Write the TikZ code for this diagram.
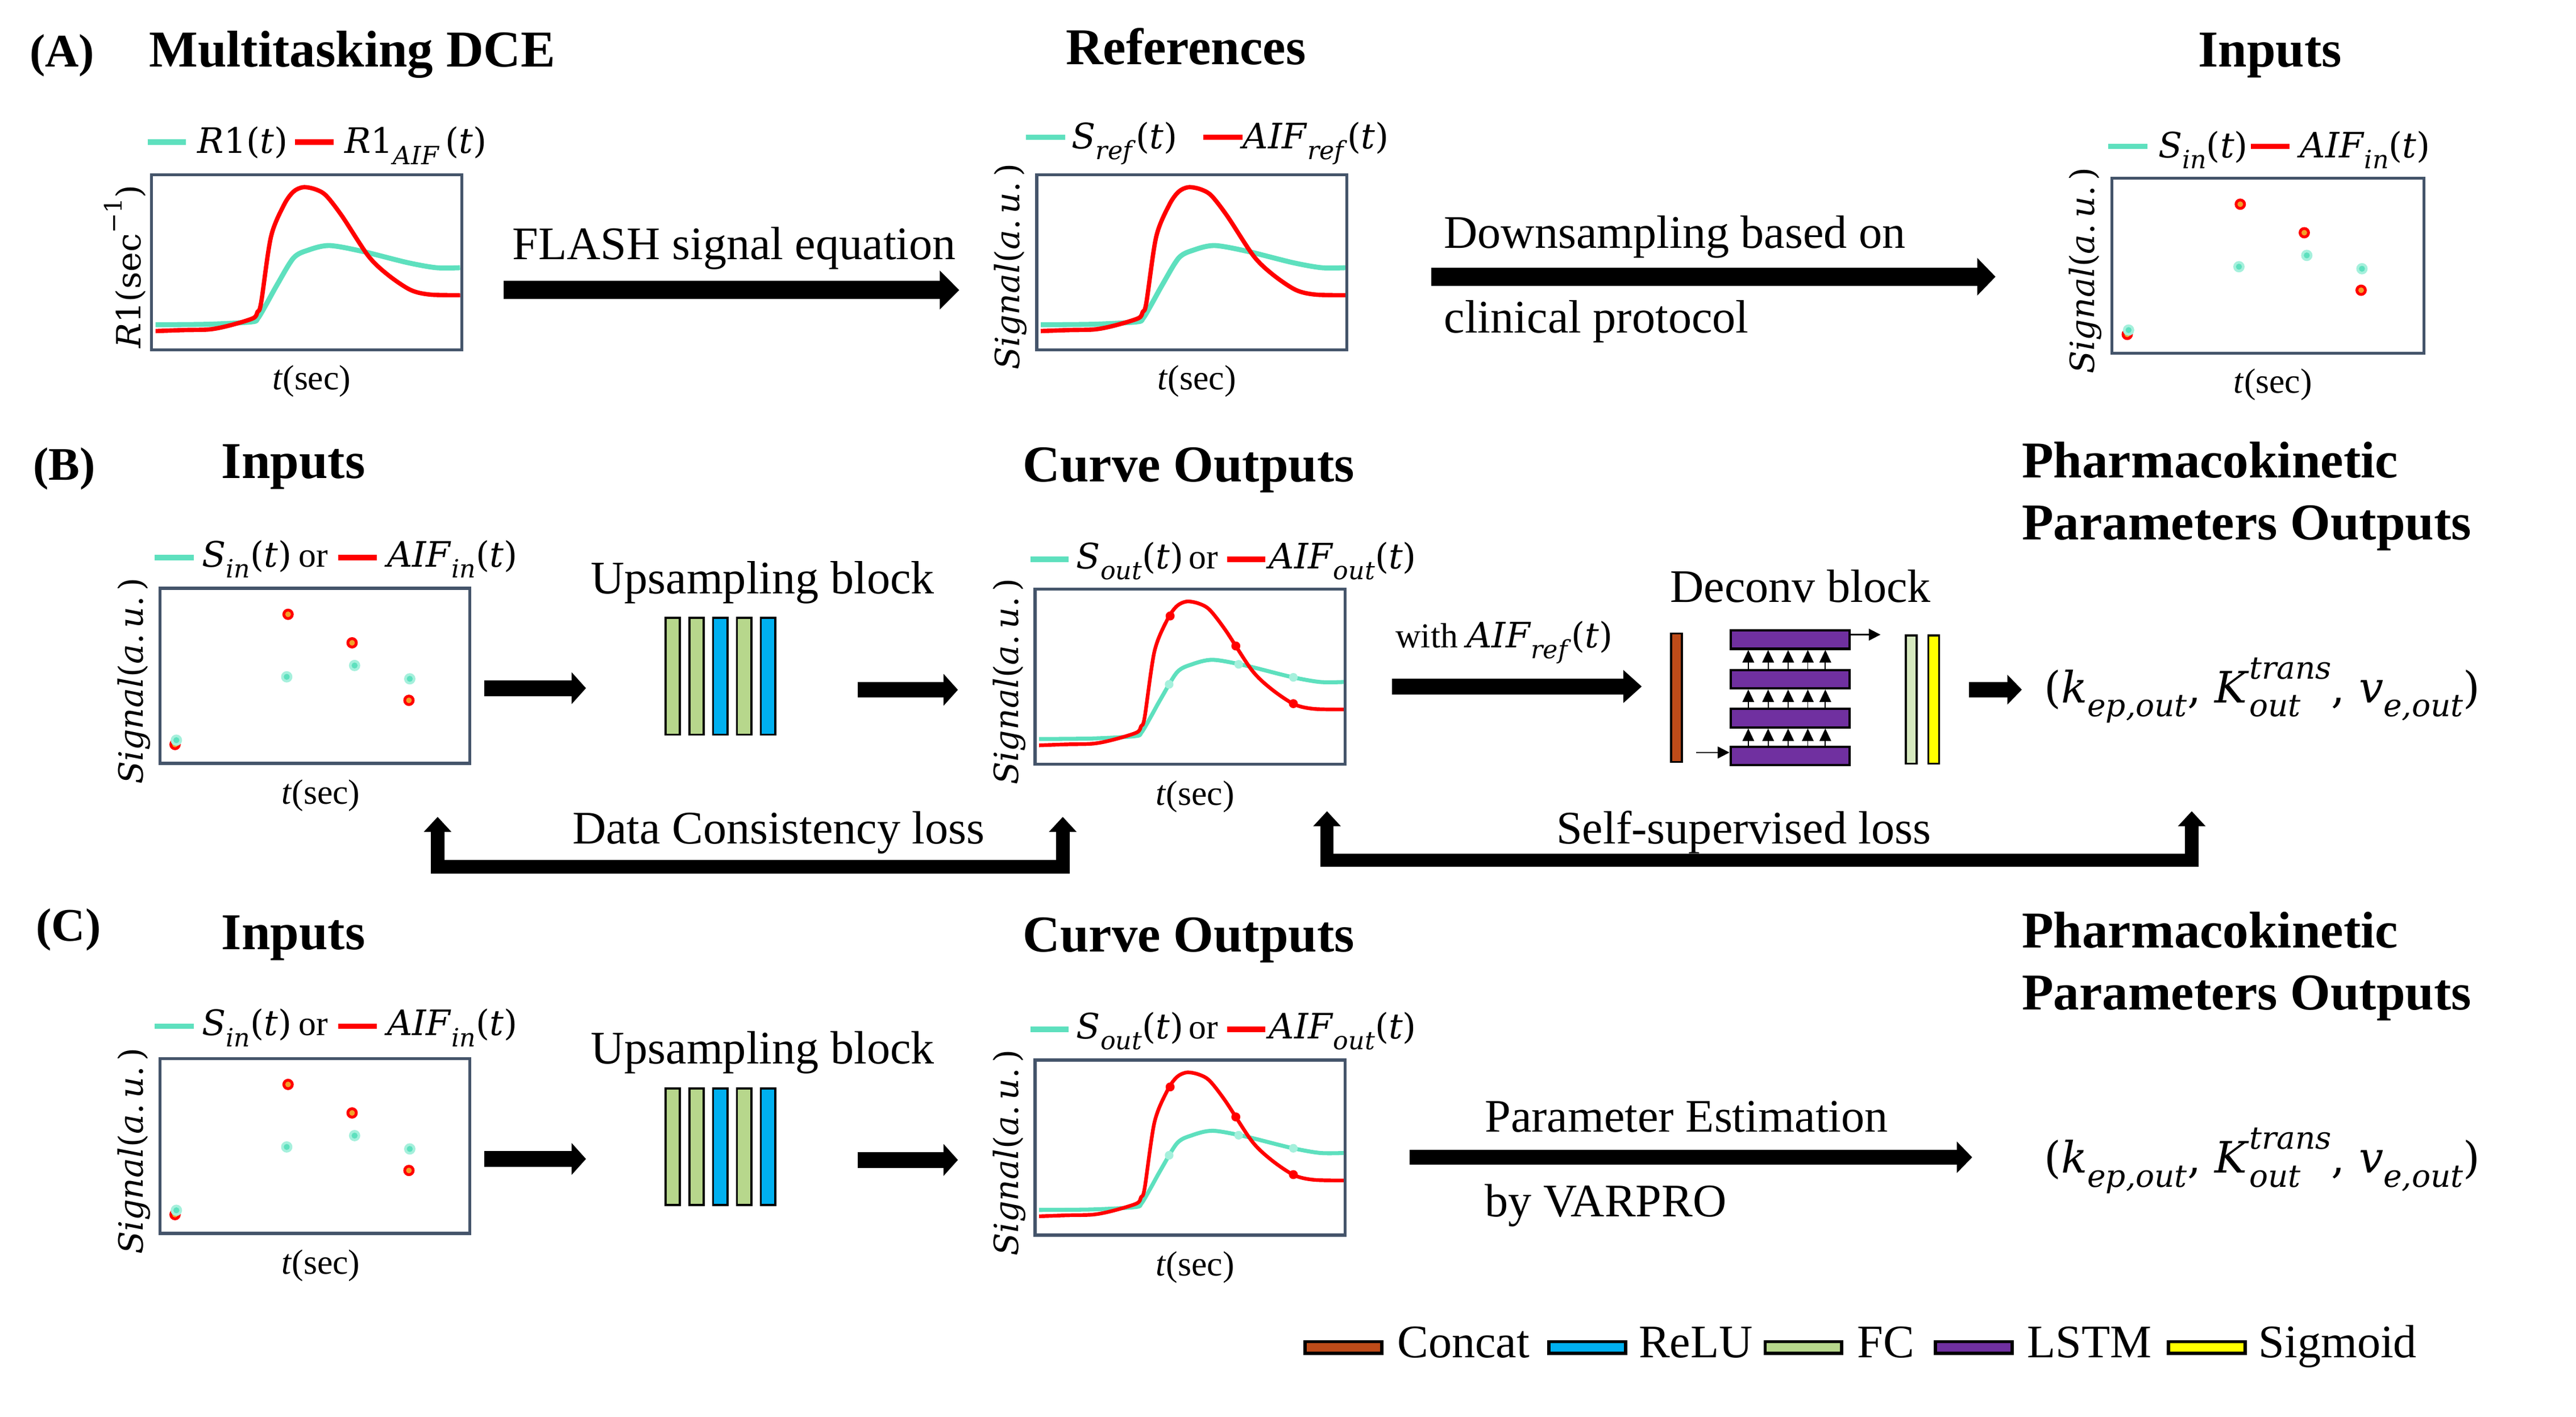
\documentclass[tikz,border=0pt]{standalone}
\usepackage{fontspec}
\usepackage{graphicx}
\setmainfont{Liberation Serif}
\newfontfamily\mifont{DejaVu Serif}
\usetikzlibrary{arrows.meta}
\definecolor{tealc}{RGB}{94,224,190}
\definecolor{tealL}{RGB}{165,240,220}
\definecolor{slate}{RGB}{68,84,106}
\definecolor{redc}{RGB}{255,0,0}
\definecolor{orangec}{RGB}{240,160,40}
\definecolor{concatc}{RGB}{190,75,25}
\definecolor{reluc}{RGB}{0,176,240}
\definecolor{fcc}{RGB}{183,215,140}
\definecolor{fcl}{RGB}{214,233,190}
\definecolor{lstmc}{RGB}{112,48,160}
\definecolor{sigc}{RGB}{255,255,0}
\newcommand\mysub[1]{\raisebox{-0.32em}{\scalebox{0.72}{#1}}}
\newcommand\mysup[1]{\raisebox{0.55em}{\scalebox{0.72}{#1}}}
\newcommand\mysubsup[2]{\rlap{\mysub{#1}}\mysup{#2}}
\newcommand\refcurves[2]{%
 \draw[tealc, line width=#1, line join=round] plot[smooth, tension=0.5] coordinates {(3.3,90.8) (35,90.5) (60.8,89.1) (64.7,86.9) (70,78) (76.4,66.5) (86.1,50.7) (95,46) (107.5,43.3) (127,46.7) (154.3,53.5) (171.8,56.6) (186,56.6)};
 \draw[redc, line width=#2, line join=round] plot[smooth, tension=0.5] coordinates {(3.3,94.6) (20,94) (35.5,93.6) (47.1,91.4) (61.8,86.9) (64.5,83) (66.6,77.8) (72.5,38.2) (80.3,19) (86,11) (91.9,8.3) (99,9.5) (105.6,13.3) (115.3,25.8) (130.9,49.5) (142.6,60.8) (156.2,69.9) (167.9,72.7) (186,73.1)};}
\newcommand\inputdots{%
 \foreach \x/\y in {10/94.6, 77.8/16.5, 116.2/33.6, 150.3/68.1} {\fill[redc] (\x,\y) circle (3.4pt); \fill[orangec] (\x,\y) circle (1.7pt);}
 \foreach \x/\y in {10.8/92, 77/54, 117.7/47.2, 150.8/55.2} {\fill[tealL] (\x,\y) circle (3.4pt); \fill[tealc] (\x,\y) circle (1.8pt);}}
\newcommand\outdots{%
 \foreach \x/\y in {81.9/17, 121.3/35, 155.8/69.6} {\fill[redc] (\x,\y) circle (2.7pt);}
 \foreach \x/\y in {81.3/58, 123/46, 155.8/53.8} {\fill[tealL] (\x,\y) circle (2.6pt);}}
\tikzset{
 ttl/.style={font=\fontsize{31}{34}\selectfont\bfseries, inner sep=0pt},
 plab/.style={font=\fontsize{28}{30}\selectfont\bfseries, inner sep=0pt, anchor=base west},
 txt/.style={font=\fontsize{28}{30}\selectfont, inner sep=0pt},
 leg/.style={font=\fontsize{21}{24}\selectfont\mifont, inner sep=0pt, anchor=base west},
 ylab/.style={font=\fontsize{20}{22}\selectfont\mifont, inner sep=0pt, rotate=90},
 xlab/.style={font=\fontsize{21}{24}\selectfont, inner sep=0pt, anchor=base},
 plotbox/.style={draw=slate, line width=1.8pt, minimum width=186pt, minimum height=105pt, inner sep=0pt, anchor=north west},
 legteal/.style={tealc, line width=3.2pt},
 legred/.style={redc, line width=3.2pt},
 blockarr/.style n args={3}{line width=#1, -{Triangle[width=#2,length=#3]}},
 lossarr/.style={line width=8pt, line join=miter, {Triangle[width=16pt,length=9pt]}-{Triangle[width=16pt,length=9pt]}},
 ubar/.style={draw=black, line width=1.3pt, minimum width=8.6pt, minimum height=70pt, inner sep=0pt, anchor=north west},
 vbar/.style={draw=black, line width=1.2pt, minimum width=6.5pt, minimum height=77pt, inner sep=0pt, anchor=north west},
 lstm/.style={draw=black, line width=1.4pt, fill=lstmc, minimum width=71.4pt, minimum height=11pt, inner sep=0pt, anchor=north west},
 smallarr/.style={line width=0.6pt, -{Triangle[width=7pt,length=7.5pt]}},
 swatch/.style={draw=black, line width=2pt, minimum width=46pt, minimum height=7pt, inner sep=0pt},
}
\begin{document}
\begin{tikzpicture}[x=1pt,y=-1pt]
\fill[white] (0,0) rectangle (1545.2,850);
\useasboundingbox (0,0) rectangle (1545.2,850);

% ---------------- Row A ----------------
\node[plab] (lA) at (17.6,40) {(A)};
\node[ttl, anchor=base west] (tMD) at (89.2,40) {Multitasking DCE};
\node[ttl, anchor=base] (tRef) at (711.3,38.8) {References};
\node[ttl, anchor=base] (tInA) at (1361.6,40) {Inputs};

% plot A1
\node[plotbox] (pA1) at (90,104) {};
\begin{scope}[shift={(pA1.north west)}] \refcurves{3pt}{2.6pt} \end{scope}
\node[ylab] (yA1) at ([xshift=-15pt,yshift=-2.5pt]pA1.west) {\textit{R}1(sec\mysup{−1})};
\node[xlab] (xA1) at ([xshift=3pt,yshift=-23pt]pA1.south) {\textit{t}(sec)};
\draw[legteal] (88.5,85.2) -- (111.6,85.2);
\node[leg] (lA1a) at (118.4,92) {\textit{R}1(\textit{t})};
\draw[legred] (177,85.2) -- (200,85.2);
\node[leg] (lA1b) at (206.5,92) {\textit{R}1\mysub{\textit{AIF}}\,(\textit{t})};

% FLASH arrow
\node[txt, anchor=base] (tFL) at (440.4,155.8) {FLASH signal equation};
\coordinate (fa1) at (302,174); \coordinate (fa2) at (575.4,174);
\draw[blockarr={11pt}{22.7pt}{11.7pt}] (fa1) -- (fa2);

% plot A2
\node[plotbox] (pA2) at (621,104) {};
\begin{scope}[shift={(pA2.north west)}] \refcurves{3pt}{2.6pt} \end{scope}
\node[ylab] (yA2) at ([xshift=-15pt,yshift=-2.5pt]pA2.west) {\textit{Signal}(\textit{a}.\,\textit{u}.\,)};
\node[xlab] (xA2) at ([xshift=3pt,yshift=-23pt]pA2.south) {\textit{t}(sec)};
\draw[legteal] (615.4,82.4) -- (638.8,82.4);
\node[leg] (lA2a) at (642.7,89) {\textit{S}\mysub{\textit{ref}}(\textit{t})};
\draw[legred] (721.9,82.4) -- (745.4,82.4);
\node[leg] (lA2b) at (745.4,89) {\textit{AIF}\mysub{\textit{ref}}(\textit{t})};

% Downsampling arrow
\node[txt, anchor=base west] (tDS1) at (866,148.7) {Downsampling based on};
\node[txt, anchor=base west] (tDS2) at (866,199.6) {clinical protocol};
\coordinate (da1) at (858.5,166); \coordinate (da2) at (1197,166);
\draw[blockarr={11pt}{22pt}{11pt}] (da1) -- (da2);

% plot A3
\node[plotbox, minimum width=187pt] (pA3) at (1266,106) {};
\begin{scope}[shift={(pA3.north west)}] \inputdots \end{scope}
\node[ylab] (yA3) at ([xshift=-15pt,yshift=-3pt]pA3.west) {\textit{Signal}(\textit{a}.\,\textit{u}.\,)};
\node[xlab] (xA3) at ([xshift=3pt,yshift=-23pt]pA3.south) {\textit{t}(sec)};
\draw[legteal] (1264.7,87.8) -- (1288,87.8);
\node[leg] (lA3a) at (1294.4,94.5) {\textit{S}\mysub{\textit{in}}(\textit{t})};
\draw[legred] (1350,87.8) -- (1373.5,87.8);
\node[leg] (lA3b) at (1379.5,94.5) {\textit{AIF}\mysub{\textit{in}}(\textit{t})};

% ---------------- Row B ----------------
\node[plab] (lB) at (19.6,288) {(B)};
\node[ttl, anchor=base] (tInB) at (176,287) {Inputs};
\node[ttl, anchor=base] (tCOB) at (713,289) {Curve Outputs};
\node[ttl, anchor=base west] (tPKB1) at (1212.7,286.6) {Pharmacokinetic};
\node[ttl, anchor=base west] (tPKB2) at (1212.7,323.8) {Parameters Outputs};

\node[plotbox] (pB1) at (95,352) {};
\begin{scope}[shift={(pB1.north west)}] \inputdots \end{scope}
\node[ylab] (yB1) at ([xshift=-14.5pt,yshift=-3pt]pB1.west) {\textit{Signal}(\textit{a}.\,\textit{u}.\,)};
\node[xlab] (xB1) at ([xshift=3.5pt,yshift=-23.5pt]pB1.south) {\textit{t}(sec)};
\draw[legteal] (92.8,334.5) -- (116.3,334.5);
\node[leg] (lB1a) at (121,340) {\textit{S}\mysub{\textit{in}}(\textit{t})};
\node[leg, font=\fontsize{21}{24}\selectfont\rmfamily] (lB1o) at (179,340) {or};
\draw[legred] (203,334.5) -- (226,334.5);
\node[leg] (lB1b) at (232,340) {\textit{AIF}\mysub{\textit{in}}(\textit{t})};

\coordinate (ba1) at (290.5,412.8); \coordinate (ba2) at (351.5,412.8);
\draw[blockarr={9.4pt}{18.6pt}{8.6pt}] (ba1) -- (ba2);
\node[txt, anchor=base] (tUpB) at (457.4,356) {Upsampling block};
\node[ubar, fill=fcc]   (uB1) at (398.5,370) {};
\node[ubar, fill=fcc]   (uB2) at (412.8,370) {};
\node[ubar, fill=reluc] (uB3) at (427.1,370) {};
\node[ubar, fill=fcc]   (uB4) at (441.4,370) {};
\node[ubar, fill=reluc] (uB5) at (455.7,370) {};
\coordinate (bb1) at (514.4,413.8); \coordinate (bb2) at (574.6,413.8);
\draw[blockarr={9.4pt}{18.6pt}{8.6pt}] (bb1) -- (bb2);

\node[plotbox] (pB2) at (620,352.5) {};
\begin{scope}[shift={(pB2.north west)}] \refcurves{2.4pt}{2.2pt} \outdots \end{scope}
\node[ylab] (yB2) at ([xshift=-14.5pt,yshift=-3pt]pB2.west) {\textit{Signal}(\textit{a}.\,\textit{u}.\,)};
\node[xlab] (xB2) at ([xshift=3pt,yshift=-23.5pt]pB2.south) {\textit{t}(sec)};
\draw[legteal] (618,335.5) -- (641,335.5);
\node[leg] (lB2a) at (645.5,341) {\textit{S}\mysub{\textit{out}}(\textit{t})};
\node[leg, font=\fontsize{21}{24}\selectfont\rmfamily] (lB2o) at (713,341) {or};
\draw[legred] (736,335.5) -- (759,335.5);
\node[leg] (lB2b) at (761,341) {\textit{AIF}\mysub{\textit{out}}(\textit{t})};

\node[anchor=base west, inner sep=0pt, font=\fontsize{21}{24}\selectfont] (tWith) at (837,388.4) {with {\mifont\textit{AIF}\mysub{\textit{ref}}(\textit{t})}};
\coordinate (wa1) at (835,411.8); \coordinate (wa2) at (984.8,411.8);
\draw[blockarr={9.4pt}{19pt}{11pt}] (wa1) -- (wa2);

% Deconv block
\node[txt, anchor=base] (tDec) at (1080,361.4) {Deconv block};
\node[vbar, fill=concatc] (dcat) at (1001.8,379.4) {};
\node[lstm] (ls1) at (1037.4,377.5) {};
\node[lstm] (ls2) at (1037.4,401.2) {};
\node[lstm] (ls3) at (1037.4,424.6) {};
\node[lstm] (ls4) at (1037.4,447.2) {};
\foreach \xx in {11.3,23.2,35.2,47.0,57.5} {
  \draw[smallarr] ([xshift=\xx pt]ls2.north west) -- ([xshift=\xx pt]ls1.south west);
  \draw[smallarr] ([xshift=\xx pt]ls3.north west) -- ([xshift=\xx pt]ls2.south west);
  \draw[smallarr] ([xshift=\xx pt]ls4.north west) -- ([xshift=\xx pt]ls3.south west);
}
\coordinate (dout) at (1128,380.7);
\draw[line width=0.8pt, -{Triangle[width=7pt,length=7pt]}] (ls1.east |- dout) -- (dout);
\coordinate (din) at (1017.4,451.4);
\draw[line width=0.8pt, -{Triangle[width=7pt,length=7pt]}] (din) -- (ls4.west |- din);
\node[vbar, fill=fcl] (dfc) at (1142.6,380.5) {};
\node[vbar, fill=sigc] (dsig) at (1156.1,380.5) {};
\coordinate (pa1) at (1181,413.7); \coordinate (pa2) at (1212.8,413.7);
\draw[blockarr={9.1pt}{17.4pt}{8.7pt}] (pa1) -- (pa2);
\node[anchor=base west, inner sep=0pt, font=\fontsize{26}{28}\selectfont\mifont] (pkB) at (1226,421.6)
 {(\textit{k}\mysub{\textit{ep,out}}, \textit{K}\mysubsup{\textit{out}}{\textit{trans}}, \textit{v}\mysub{\textit{e,out}})};

% loss arrows
\node[txt, anchor=base] (tDC) at (467,506.2) {Data Consistency loss};
\coordinate (dcL) at (262.5,490); \coordinate (dcLc) at (262.5,520);
\coordinate (dcRc) at (637.5,520); \coordinate (dcR) at (637.5,490);
\draw[lossarr] (dcL) -- (dcLc) -- (dcRc) -- (dcR);
\node[txt, anchor=base] (tSS) at (1046,506.2) {Self-supervised loss};
\coordinate (ssL) at (796,486.6); \coordinate (ssLc) at (796,516);
\coordinate (ssRc) at (1314.7,516); \coordinate (ssR) at (1314.7,486.6);
\draw[lossarr] (ssL) -- (ssLc) -- (ssRc) -- (ssR);

% ---------------- Row C ----------------
\node[plab] (lC) at (21.5,564.3) {(C)};
\node[ttl, anchor=base] (tInC) at (176,569.4) {Inputs};
\node[ttl, anchor=base] (tCOC) at (713,571) {Curve Outputs};
\node[ttl, anchor=base west] (tPKC1) at (1212.7,568.6) {Pharmacokinetic};
\node[ttl, anchor=base west] (tPKC2) at (1212.7,605.8) {Parameters Outputs};

\node[plotbox] (pC1) at (95,634) {};
\begin{scope}[shift={(pC1.north west)}] \inputdots \end{scope}
\node[ylab] (yC1) at ([xshift=-14.5pt,yshift=-3pt]pC1.west) {\textit{Signal}(\textit{a}.\,\textit{u}.\,)};
\node[xlab] (xC1) at ([xshift=3.5pt,yshift=-23.5pt]pC1.south) {\textit{t}(sec)};
\draw[legteal] (92.8,615.5) -- (116.3,615.5);
\node[leg] (lC1a) at (121,621) {\textit{S}\mysub{\textit{in}}(\textit{t})};
\node[leg, font=\fontsize{21}{24}\selectfont\rmfamily] (lC1o) at (179,621) {or};
\draw[legred] (203,615.5) -- (226,615.5);
\node[leg] (lC1b) at (232,621) {\textit{AIF}\mysub{\textit{in}}(\textit{t})};

\coordinate (ca1) at (290.5,695.2); \coordinate (ca2) at (351.5,695.2);
\draw[blockarr={9.4pt}{18.6pt}{8.6pt}] (ca1) -- (ca2);
\node[txt, anchor=base] (tUpC) at (457.4,638) {Upsampling block};
\node[ubar, fill=fcc]   (uC1) at (398.5,652.3) {};
\node[ubar, fill=fcc]   (uC2) at (412.8,652.3) {};
\node[ubar, fill=reluc] (uC3) at (427.1,652.3) {};
\node[ubar, fill=fcc]   (uC4) at (441.4,652.3) {};
\node[ubar, fill=reluc] (uC5) at (455.7,652.3) {};
\coordinate (cb1) at (514.4,695.8); \coordinate (cb2) at (574.6,695.8);
\draw[blockarr={9.4pt}{18.6pt}{8.6pt}] (cb1) -- (cb2);

\node[plotbox] (pC2) at (620,635) {};
\begin{scope}[shift={(pC2.north west)}] \refcurves{2.4pt}{2.2pt} \outdots \end{scope}
\node[ylab] (yC2) at ([xshift=-14.5pt,yshift=-3pt]pC2.west) {\textit{Signal}(\textit{a}.\,\textit{u}.\,)};
\node[xlab] (xC2) at ([xshift=3pt,yshift=-23.5pt]pC2.south) {\textit{t}(sec)};
\draw[legteal] (618,617.5) -- (641,617.5);
\node[leg] (lC2a) at (645.5,623) {\textit{S}\mysub{\textit{out}}(\textit{t})};
\node[leg, font=\fontsize{21}{24}\selectfont\rmfamily] (lC2o) at (713,623) {or};
\draw[legred] (736,617.5) -- (759,617.5);
\node[leg] (lC2b) at (761,623) {\textit{AIF}\mysub{\textit{out}}(\textit{t})};

\node[txt, anchor=base west] (tPE1) at (890.5,679) {Parameter Estimation};
\node[txt, anchor=base west] (tPE2) at (890.5,729.7) {by VARPRO};
\coordinate (pe1) at (845.5,694.2); \coordinate (pe2) at (1183,694.2);
\draw[blockarr={8.9pt}{18.3pt}{9.2pt}] (pe1) -- (pe2);
\node[anchor=base west, inner sep=0pt, font=\fontsize{26}{28}\selectfont\mifont] (pkC) at (1226,703.6)
 {(\textit{k}\mysub{\textit{ep,out}}, \textit{K}\mysubsup{\textit{out}}{\textit{trans}}, \textit{v}\mysub{\textit{e,out}})};

% ---------------- Legend ----------------
\node[swatch, fill=concatc] (sw1) at (805.9,808.3) {};
\node[txt, anchor=base west] (lg1) at (838,814.2) {Concat};
\node[swatch, fill=reluc] (sw2) at (952.2,808.3) {};
\node[txt, anchor=base west] (lg2) at (982.8,814.2) {ReLU};
\node[swatch, fill=fcc] (sw3) at (1081.8,808.3) {};
\node[txt, anchor=base west] (lg3) at (1113.9,814.2) {FC};
\node[swatch, fill=lstmc] (sw4) at (1184,808.3) {};
\node[txt, anchor=base west] (lg4) at (1215.7,814.2) {LSTM};
\node[swatch, fill=sigc] (sw5) at (1323.8,808.3) {};
\node[txt, anchor=base west] (lg5) at (1354.6,814.2) {Sigmoid};
\end{tikzpicture}
\end{document}
